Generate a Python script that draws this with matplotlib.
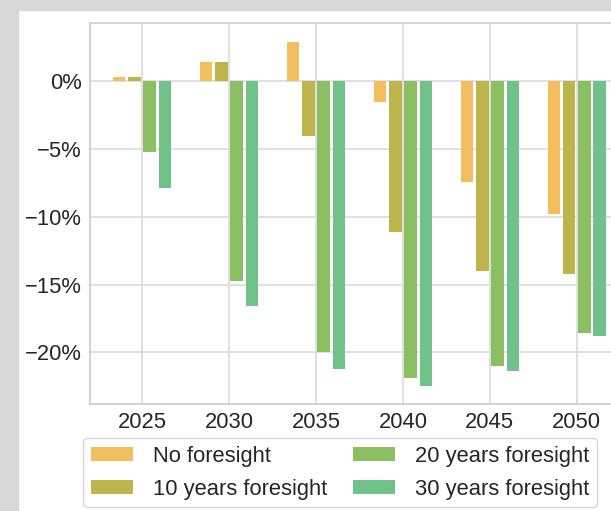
import matplotlib
matplotlib.use("Agg")
import matplotlib.pyplot as plt
from matplotlib.patches import Rectangle
from matplotlib.ticker import FuncFormatter
import numpy as np

# Chart data (percent change vs. reference)
years = ["2025", "2030", "2035", "2040", "2045", "2050"]
series_labels = ["No foresight", "10 years foresight", "20 years foresight", "30 years foresight"]
no_foresight = [0.35, 1.4, 2.9, -1.5, -7.4, -9.8]
foresight_10 = [0.35, 1.4, -4.0, -11.1, -14.0, -14.2]
foresight_20 = [-5.2, -14.7, -20.0, -21.9, -21.0, -18.6]
foresight_30 = [-7.9, -16.6, -21.2, -22.5, -21.4, -18.8]
colors = ["#F3BE5F", "#BDB54B", "#8BBF62", "#71C18A"]

fs = 15.8
plt.rcParams["font.family"] = ["Liberation Sans", "DejaVu Sans"]
plt.rcParams["font.size"] = fs

fig = plt.figure(figsize=(6.11, 5.11), dpi=100)
fig.patch.set_facecolor("white")

# Gray border on the left and top (the screenshot frame)
gray = "#d8d8d8"
fig.patches.append(Rectangle((0, 0), 18 / 611, 1, transform=fig.transFigure, color=gray, zorder=-10))
fig.patches.append(Rectangle((0, 1 - 10 / 511), 1, 10 / 511, transform=fig.transFigure, color=gray, zorder=-10))

ax = fig.add_axes([90 / 611, 107 / 511, 539 / 611, 381 / 511])
ax.set_facecolor("white")

x = np.arange(len(years))
step = 0.176
width = 0.145
all_series = [no_foresight, foresight_10, foresight_20, foresight_30]
for i, (vals, label, c) in enumerate(zip(all_series, series_labels, colors)):
    ax.bar(x + (i - 1.5) * step, vals, width=width, color=c, label=label, zorder=3)

ax.set_xlim(-0.598, 5.6)
ax.set_ylim(-23.8, 4.3)
ax.set_xticks(x)
ax.set_xticklabels(years)
ax.set_yticks([0, -5, -10, -15, -20])
ax.yaxis.set_major_formatter(FuncFormatter(lambda v, p: f"{v:.0f}%".replace("-", "\u2212")))

ax.grid(True, color="#dddddd", linewidth=1.3, zorder=0)
ax.tick_params(length=0, colors="#262626", labelsize=fs, pad=6)
for s in ax.spines.values():
    s.set_color("#cccccc")
    s.set_linewidth(1.2)

leg = fig.legend(loc="upper center", bbox_to_anchor=(340 / 611, 1 - 438 / 511), ncol=2,
                 fontsize=fs, handlelength=1.9, handleheight=0.6, handletextpad=0.9,
                 columnspacing=1.2, frameon=True, fancybox=True, borderpad=0.35,
                 labelspacing=0.55, borderaxespad=0)
leg.get_frame().set_edgecolor("#cccccc")
for t in leg.get_texts():
    t.set_color("#262626")

fig.savefig("out.png", dpi=100)
